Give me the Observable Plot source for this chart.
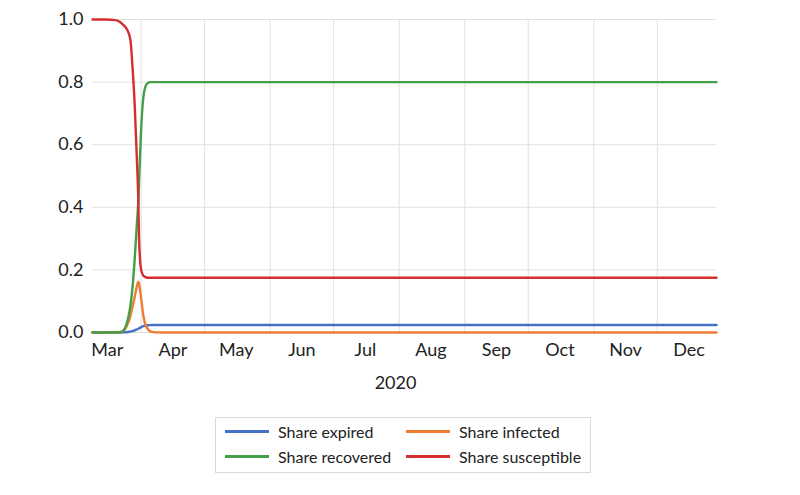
<!DOCTYPE html>
<html>
<head>
<meta charset="utf-8">
<script src="https://cdn.jsdelivr.net/npm/d3@7"></script>
<script src="https://cdn.jsdelivr.net/npm/@observablehq/plot@0.6"></script>
<style>
  html, body { margin: 0; padding: 0; background: #fff; }
  body { width: 800px; height: 495px; font-family: Lato, "Open Sans", sans-serif; color: #222; }
  #legend {
    position: absolute; left: 215px; top: 417px; width: 376px; height: 56px;
    border: 1px solid #d9d9d9; box-sizing: border-box;
    display: grid; grid-template-columns: 181px 181px; grid-auto-rows: 25px;
    padding: 1px 0 0 9px; font-size: 16px;
  }
  .item { display: flex; align-items: center; white-space: nowrap; }
  .sw { width: 44px; height: 2.5px; margin-right: 9px; }
</style>
</head>
<body>
<div id="chart"></div>
<div id="legend"></div>
<script>
// ---- data ----
const dates = [
  "2020-03-09","2020-03-15","2020-03-20","2020-03-22","2020-03-23","2020-03-24","2020-03-25",
  "2020-03-26","2020-03-27","2020-03-28","2020-03-29","2020-03-30","2020-03-30T16:00",
  "2020-03-31","2020-04-01","2020-04-02","2020-04-03","2020-04-04","2020-04-05",
  "2020-04-06","2020-04-08","2020-04-12","2020-12-29"
];
const shareExpired =     [0,0,0,0,0.0003,0.0006,0.001,0.002,0.003,0.005,0.007,0.010,0.012,0.013,0.017,0.020,0.022,0.023,0.0235,0.024,0.024,0.024,0.024];
const shareInfected =    [0,0,0.0005,0.001,0.003,0.008,0.018,0.033,0.055,0.085,0.115,0.148,0.162,0.155,0.11,0.055,0.025,0.012,0.005,0.002,0.0005,0,0];
const shareRecovered =   [0,0,0.0005,0.001,0.003,0.01,0.025,0.05,0.09,0.15,0.24,0.35,0.42,0.48,0.65,0.75,0.785,0.796,0.8,0.8,0.8,0.8,0.8];
const shareSusceptible = [1,1,0.998,0.992,0.986,0.98,0.972,0.958,0.93,0.84,0.72,0.55,0.42,0.30,0.20,0.182,0.177,0.175,0.175,0.175,0.175,0.175,0.175];

const seriesNames = ["Share expired","Share infected","Share recovered","Share susceptible"];
const seriesColors = ["#4472C4","#ED7D31","#43A047","#D62D2D"];
const seriesValues = [shareExpired, shareInfected, shareRecovered, shareSusceptible];

const yTicks = [0, 0.2, 0.4, 0.6, 0.8, 1.0];
const monthStarts = ["2020-04-01","2020-05-01","2020-06-01","2020-07-01","2020-08-01","2020-09-01","2020-10-01","2020-11-01","2020-12-01"];
const monthLabelDates = ["2020-03-16","2020-04-16","2020-05-16","2020-06-16","2020-07-16","2020-08-16","2020-09-16","2020-10-16","2020-11-16","2020-12-16"];
const monthLabels = ["Mar","Apr","May","Jun","Jul","Aug","Sep","Oct","Nov","Dec"];
const xDomain = ["2020-03-09","2020-12-29"];
const yearLabel = "2020";

// ---- build table ----
const parse = s => new Date(s.length > 10 ? s : s + "T00:00");
const rows = [];
seriesNames.forEach((name, si) => {
  dates.forEach((d, i) => rows.push({date: parse(d), value: seriesValues[si][i], series: name}));
});
const labelMap = new Map(monthLabelDates.map((d, i) => [+parse(d), monthLabels[i]]));

const chart = Plot.plot({
  width: 800,
  height: 405,
  marginLeft: 92,
  marginRight: 84,
  marginTop: 19,
  marginBottom: 73,
  style: {fontFamily: "Lato, 'Open Sans', sans-serif", fontSize: "18px", color: "#222", background: "#fff"},
  x: {type: "utc", domain: xDomain.map(parse)},
  y: {domain: [0, 1]},
  color: {domain: seriesNames, range: seriesColors},
  marks: [
    Plot.ruleY(yTicks, {stroke: "#e0e0e0", strokeWidth: 1}),
    Plot.ruleX(monthStarts.map(parse), {stroke: "#e0e0e0", strokeWidth: 1}),
    Plot.axisY(yTicks, {tickSize: 0, tickPadding: 9, tickFormat: d3.format(".1f"), label: null, fontSize: 18}),
    Plot.axisX(monthLabelDates.map(parse), {tickSize: 0, tickPadding: 11, tickFormat: d => labelMap.get(+d), label: null, fontSize: 18}),
    Plot.text([yearLabel], {frameAnchor: "bottom", dy: 51, dx: -9, fontSize: 18, lineAnchor: "middle", fill: "#222"}),
    Plot.line(rows, {x: "date", y: "value", z: "series", stroke: "series", strokeWidth: 2.4, curve: "monotone-x"})
  ]
});
document.getElementById("chart").appendChild(chart);

// ---- legend ----
const legend = document.getElementById("legend");
const order = [0, 1, 2, 3];
order.forEach(i => {
  const it = document.createElement("div");
  it.className = "item";
  it.innerHTML = `<span class="sw" style="background:${seriesColors[i]}"></span><span>${seriesNames[i]}</span>`;
  legend.appendChild(it);
});
</script>
</body>
</html>
